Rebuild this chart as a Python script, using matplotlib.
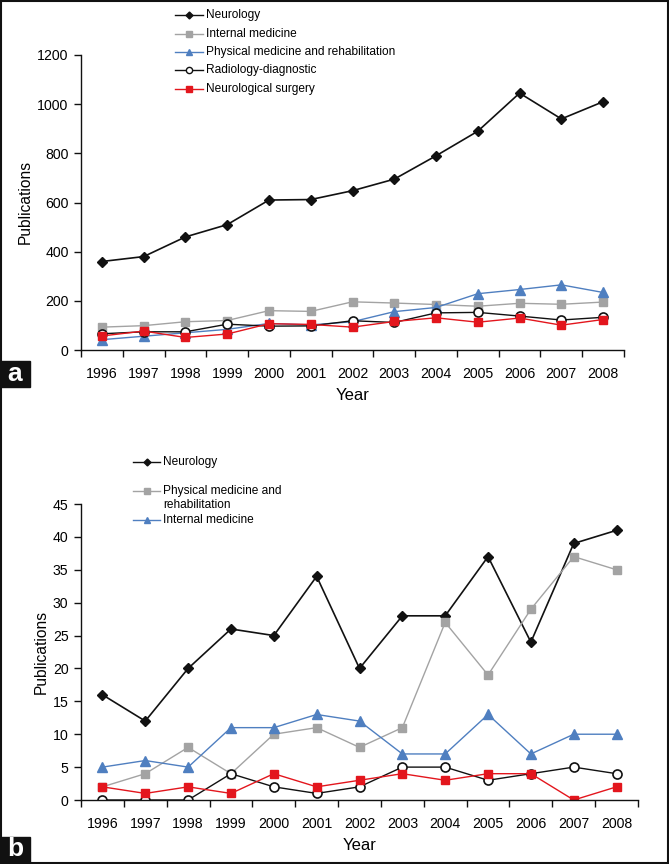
import numpy as np
import matplotlib
matplotlib.use("Agg")
import matplotlib.pyplot as plt
from matplotlib.lines import Line2D
from matplotlib.patches import Rectangle

plt.rcParams['font.family'] = ['Liberation Sans', 'DejaVu Sans']

years = ['1996', '1997', '1998', '1999', '2000', '2001', '2002',
         '2003', '2004', '2005', '2006', '2007', '2008']

# Panel a
a_neurology = [360, 380, 460, 510, 610, 612, 648, 695, 790, 890, 1045, 940, 1010]
a_internal = [93, 99, 115, 120, 160, 157, 196, 191, 185, 178, 190, 186, 195]
a_physical = [42, 56, 70, 84, 108, 102, 115, 156, 173, 229, 246, 265, 234]
a_radiology = [66, 74, 74, 105, 97, 98, 119, 112, 151, 153, 138, 122, 133]
a_neurosurg = [57, 77, 51, 65, 107, 104, 93, 116, 131, 113, 130, 101, 124]
a_yticks = [0, 200, 400, 600, 800, 1000, 1200]

# Panel b
b_neurology = [16, 12, 20, 26, 25, 34, 20, 28, 28, 37, 24, 39, 41]
b_physical = [2, 4, 8, 4, 10, 11, 8, 11, 27, 19, 29, 37, 35]
b_internal = [5, 6, 5, 11, 11, 13, 12, 7, 7, 13, 7, 10, 10]
b_radiology = [0, 0, 0, 4, 2, 1, 2, 5, 5, 3, 4, 5, 4]
b_neurosurg = [2, 1, 2, 1, 4, 2, 3, 4, 3, 4, 4, 0, 2]
b_yticks = [0, 5, 10, 15, 20, 25, 30, 35, 40, 45]

W, H = 669, 864
C_BLACK = '#111111'
C_GRAY = '#a3a3a3'
C_BLUE = '#4f7fc0'
C_RED = '#e3161d'

fig = plt.figure(figsize=(W / 100, H / 100), dpi=100)

styles = {
    'neuro': dict(color=C_BLACK, lw=1.2, marker='D', ms=5.4, mfc=C_BLACK, mec=C_BLACK),
    'gray': dict(color=C_GRAY, lw=1.0, marker='s', ms=6.0, mfc=C_GRAY, mec=C_GRAY),
    'blue': dict(color=C_BLUE, lw=1.0, marker='^', ms=6.5, mfc=C_BLUE, mec=C_BLUE),
    'radio': dict(color=C_BLACK, lw=1.0, marker='o', ms=6.5, mfc='white', mec=C_BLACK, mew=1.2),
    'red': dict(color=C_RED, lw=1.0, marker='s', ms=5.5, mfc=C_RED, mec=C_RED),
}


def px_axes(x0, y0, x1, y1):
    return fig.add_axes([x0 / W, 1 - y1 / H, (x1 - x0) / W, (y1 - y0) / H])


def style_axes(ax, yticks, ymax):
    x = np.arange(len(years))
    ax.set_xlim(-0.5, len(years) - 0.5)
    ax.set_ylim(0, ymax)
    ax.set_yticks(yticks)
    ax.set_xticks(x)
    ax.set_xticklabels(years)
    ax.set_xticks(np.arange(len(years) + 1) - 0.5, minor=True)
    ax.tick_params(axis='x', which='major', length=0, pad=12, labelsize=10.2)
    ax.tick_params(axis='x', which='minor', length=5, width=1, direction='out', color=C_BLACK)
    ax.tick_params(axis='y', length=5, width=1, direction='out', labelsize=10.2, pad=4, color=C_BLACK)
    for s in ['top', 'right']:
        ax.spines[s].set_visible(False)
    for s in ['left', 'bottom']:
        ax.spines[s].set_linewidth(1.0)
        ax.spines[s].set_color(C_BLACK)
    ax.set_ylabel('Publications', fontsize=11.2, labelpad=3)
    ax.set_xlabel('Year', fontsize=12, labelpad=5)


def legend_entry(x0, x1, xt, y, st, label, ms):
    yf = 1 - y / H
    fig.add_artist(Line2D([x0 / W, x1 / W], [yf, yf], color=st['color'], lw=1.0,
                          transform=fig.transFigure))
    fig.add_artist(Line2D([(x0 + x1) / 2 / W], [yf], marker=st['marker'], ms=ms,
                          mfc=st['mfc'], mec=st['mec'], mew=1.0, ls='none',
                          transform=fig.transFigure))
    fig.text(xt / W, yf, label, va='center', ha='left', fontsize=8.6)


x = np.arange(len(years))

# ---------- panel a ----------
axa = px_axes(81, 55, 624, 350)
axa.plot(x, a_neurology, **styles['neuro'])
axa.plot(x, a_internal, **styles['gray'])
axa.plot(x, a_physical, **styles['blue'])
axa.plot(x, a_radiology, **styles['radio'])
axa.plot(x, a_neurosurg, **styles['red'])
style_axes(axa, a_yticks, 1200)

legend_entry(175, 203, 206, 15, styles['neuro'], 'Neurology', 3.5)
legend_entry(175, 203, 206, 34, styles['gray'], 'Internal medicine', 4.5)
legend_entry(175, 203, 206, 52, styles['blue'], 'Physical medicine and rehabilitation', 4.5)
legend_entry(175, 203, 206, 70, styles['radio'], 'Radiology-diagnostic', 4.5)
legend_entry(175, 203, 206, 89, styles['red'], 'Neurological surgery', 4.5)

# ---------- panel b ----------
axb = px_axes(81, 504, 638, 800)
axb.plot(x, b_neurology, **styles['neuro'])
axb.plot(x, b_physical, **styles['gray'])
axb.plot(x, b_internal, **styles['blue'])
axb.plot(x, b_radiology, **styles['radio'])
axb.plot(x, b_neurosurg, **styles['red'])
style_axes(axb, b_yticks, 45)

legend_entry(133, 160, 163, 462, styles['neuro'], 'Neurology', 3.5)
legend_entry(133, 160, 163, 491, styles['gray'], 'Physical medicine and', 4.5)
fig.text(163 / W, 1 - 505 / H, 'rehabilitation', va='center', ha='left', fontsize=8.6)
legend_entry(133, 160, 163, 520, styles['blue'], 'Internal medicine', 4.5)

# ---------- panel labels ----------
for lab, y0, y1 in [('a', 361, 387), ('b', 837, 862)]:
    fig.add_artist(Rectangle((0, 1 - y1 / H), 30 / W, (y1 - y0) / H, color=C_BLACK,
                             transform=fig.transFigure, zorder=5))
    fig.text(15 / W, 1 - (y0 + y1) / 2 / H, lab, color='white', fontsize=19,
             fontweight='bold', ha='center', va='center', zorder=6)

# frame
fig.add_artist(Rectangle((0.0015, 0.0012), 0.997, 0.9976, fill=False, ec=C_BLACK,
                         lw=1.5, transform=fig.transFigure))

fig.savefig('out.png', dpi=100)
